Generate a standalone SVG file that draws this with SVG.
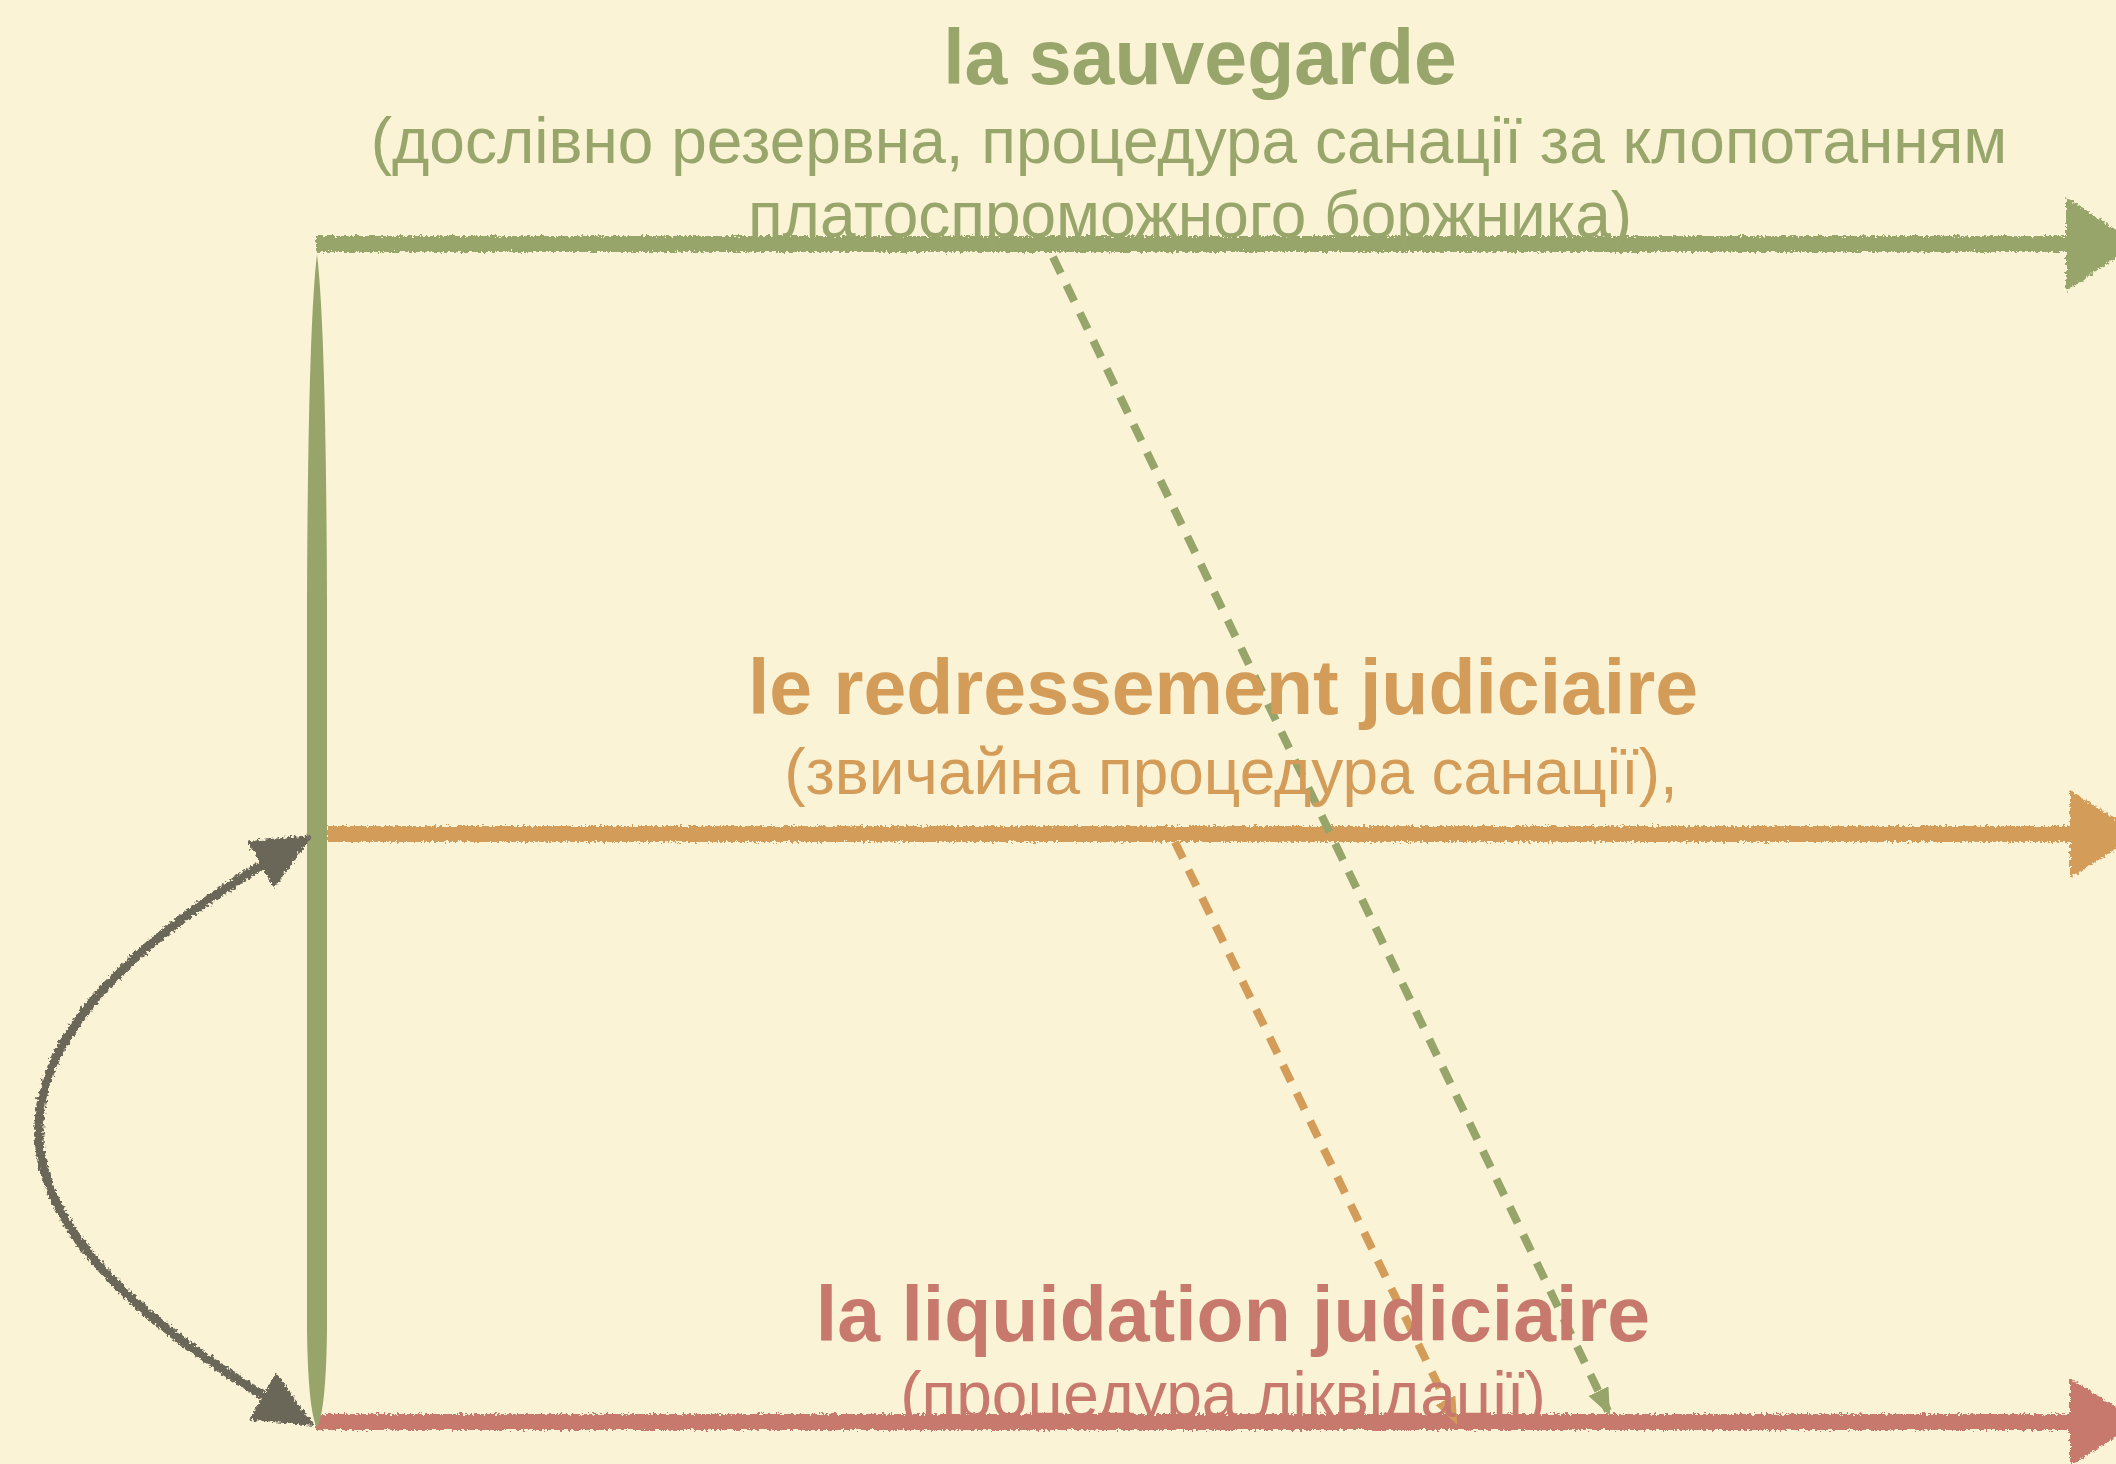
<svg xmlns="http://www.w3.org/2000/svg" width="2116" height="1464" viewBox="0 0 2116 1464">
<defs>
<filter id="rough" filterUnits="userSpaceOnUse" x="0" y="0" width="2116" height="1464">
<feTurbulence type="fractalNoise" baseFrequency="0.35" numOctaves="2" seed="3" result="n"/>
<feDisplacementMap in="SourceGraphic" in2="n" scale="7" xChannelSelector="R" yChannelSelector="G"/>
</filter>
<marker id="headDark" markerUnits="userSpaceOnUse" markerWidth="66" markerHeight="56" refX="50" refY="27" orient="auto-start-reverse" viewBox="0 0 66 56">
<path d="M0,0 L60,27 L0,54 z" fill="#6b6658"/>
</marker>
<marker id="headGreen" markerUnits="userSpaceOnUse" markerWidth="30" markerHeight="26" refX="22" refY="11" orient="auto" viewBox="0 0 30 26">
<path d="M0,0 L27,11 L0,22 z" fill="#97a56b"/>
</marker>
<marker id="headOrange" markerUnits="userSpaceOnUse" markerWidth="30" markerHeight="26" refX="22" refY="11" orient="auto" viewBox="0 0 30 26">
<path d="M0,0 L27,11 L0,22 z" fill="#d39c58"/>
</marker>
</defs>
<style>
.t{font-family:"Liberation Sans",Arial,sans-serif;text-anchor:middle}
.h{font-size:77px;font-weight:bold}
.s{font-size:64px}
.g{fill:#98a66b}
.o{fill:#d39c58}
.r{fill:#c8796e}
.dash{fill:none;stroke-width:8;stroke-dasharray:18 13}
</style>
<rect x="0" y="0" width="2116" height="1464" fill="#fbf3d6"/>

<g id="connectors">
<g id="track-sauvegarde" filter="url(#rough)">
<path d="M316,244 L2075,244" stroke="#97a56b" stroke-width="16" fill="none"/>
<polygon points="2066,197 2137,244 2066,291" fill="#97a56b"/>
</g>
<g id="track-redressement" filter="url(#rough)">
<path d="M327,834 L2075,834" stroke="#d39c58" stroke-width="16" fill="none"/>
<polygon points="2070,790 2140,834 2070,878" fill="#d39c58"/>
</g>
<g id="track-liquidation" filter="url(#rough)">
<path d="M316,1422 L2075,1422" stroke="#c8796e" stroke-width="16" fill="none"/>
<polygon points="2070,1378 2140,1422 2070,1466" fill="#c8796e"/>
</g>
<path id="vertical" d="M317,254 Q326,330 327,600 L327,1330 Q326,1410 317,1428 Q308,1410 307,1330 L307,600 Q308,330 317,254 Z" fill="#97a56b"/>
<path id="dash-green" class="dash" d="M1053,257 L1608,1411" stroke="#97a56b" marker-end="url(#headGreen)"/>
<path id="dash-orange" class="dash" d="M1175,842 L1455,1420" stroke="#d39c58" marker-end="url(#headOrange)"/>
<path id="curve" filter="url(#rough)" d="M304,840 C-50,1042 -50,1218 306,1421" fill="none" stroke="#6b6658" stroke-width="9" marker-start="url(#headDark)" marker-end="url(#headDark)"/>
</g>

<g id="node-sauvegarde">
<text class="t h g" x="1200" y="84">la sauvegarde</text>
<text class="t s g" x="1189" y="163">(дослівно резервна, процедура санації за клопотанням</text>
<text class="t s g" x="1190" y="237">платоспроможного боржника)</text>
</g>
<g id="node-redressement">
<text class="t h o" x="1223" y="714">le redressement judiciaire</text>
<text class="t s o" x="1231" y="794">(звичайна процедура санації),</text>
</g>
<g id="node-liquidation">
<text class="t h r" x="1233" y="1341">la liquidation judiciaire</text>
<text class="t s r" x="1223" y="1417">(процедура ліквідації)</text>
</g>
</svg>
